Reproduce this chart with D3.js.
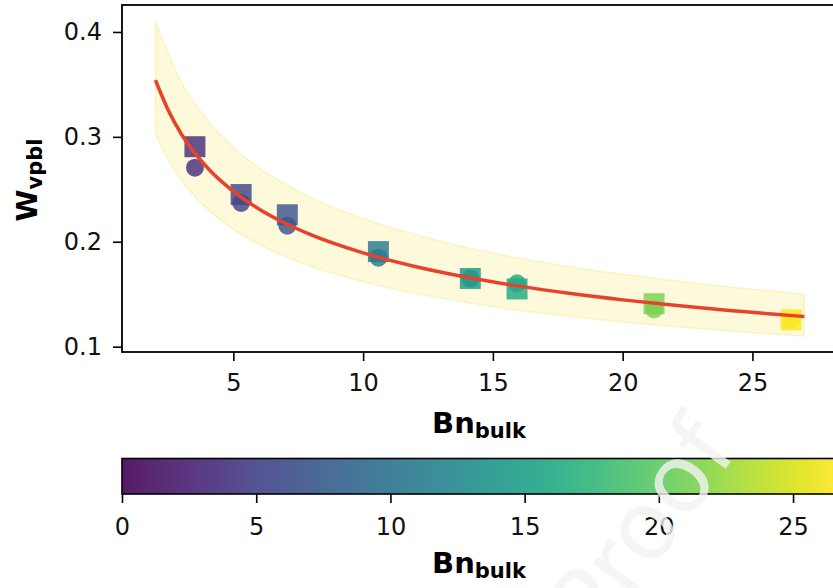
<!DOCTYPE html>
<html><head><meta charset="utf-8">
<script src="https://cdn.jsdelivr.net/npm/d3@7"></script>
<style>body{margin:0;background:#fff}svg{display:block}text{font-family:"DejaVu Sans",sans-serif}</style>
</head><body><svg id="c" width="833" height="588"></svg>
<script>
// ---- data ----
const bnPoints   = [3.52, 5.30, 7.08, 10.59, 14.13, 15.93, 21.21, 26.49];
const wSquares   = [0.2906, 0.245, 0.2257, 0.1906, 0.165, 0.155, 0.1409, 0.1255];
const wCircles   = [0.2706, 0.237, 0.2153, 0.1848, 0.165, 0.1604, 0.1356, 0.1255];
const fitBn      = [2, 2.5, 3, 4, 5, 6, 7, 8, 10, 12, 14, 16, 18, 20, 22, 24, 26, 27];
const fitW       = [0.354, 0.325, 0.3025, 0.2705, 0.248, 0.231, 0.2176, 0.2065, 0.1894, 0.1764, 0.1661, 0.1577, 0.1506, 0.1446, 0.1394, 0.1347, 0.1306, 0.1287];
const bandUpper  = [0.411, 0.379, 0.352, 0.316, 0.290, 0.270, 0.255, 0.242, 0.222, 0.207, 0.1945, 0.1845, 0.176, 0.169, 0.1628, 0.1572, 0.1523, 0.150];
const bandLower  = [0.303, 0.278, 0.2586, 0.2313, 0.212, 0.1975, 0.186, 0.1766, 0.1619, 0.1508, 0.142, 0.1348, 0.1288, 0.1236, 0.1192, 0.1152, 0.1117, 0.110];
const xTicks     = [5, 10, 15, 20, 25];
const yTicks     = [0.1, 0.2, 0.3, 0.4];
const cbTicks    = [0, 5, 10, 15, 20, 25];
const cbMax      = 26.6;

const svg = d3.select("#c");
const x = d3.scaleLinear().domain([0.71, 28.22]).range([122, 836]);
const y = d3.scaleLinear().domain([0.0949, 0.4257]).range([352, 5]);
const color = d3.scaleSequential(d3.interpolateViridis).domain([0, cbMax]);

// band
const band = fitBn.map((b, i) => ({b, lo: bandLower[i], hi: bandUpper[i]}));
svg.append("path").datum(band)
  .attr("d", d3.area().x(d => x(d.b)).y0(d => y(d.lo)).y1(d => y(d.hi)).curve(d3.curveMonotoneX))
  .attr("fill", "rgba(245,230,90,0.22)").attr("stroke", "rgba(240,225,100,0.3)").attr("stroke-width", 1.5);

// markers
const pts = bnPoints.map((b, i) => ({b, ws: wSquares[i], wc: wCircles[i]}));
const g = svg.append("g");
pts.forEach(d => {
  g.append("circle").attr("cx", x(d.b)).attr("cy", y(d.wc)).attr("r", 9)
    .attr("fill", color(d.b)).attr("fill-opacity", 0.82);
  g.append("rect").attr("x", x(d.b) - 10.5).attr("y", y(d.ws) - 10.5).attr("width", 21).attr("height", 21)
    .attr("fill", color(d.b)).attr("fill-opacity", 0.82);
});

// fit curve
svg.append("path").datum(fitBn.map((b, i) => [b, fitW[i]]))
  .attr("d", d3.line().x(d => x(d[0])).y(d => y(d[1])).curve(d3.curveMonotoneX))
  .attr("fill", "none").attr("stroke", "#e8412c").attr("stroke-width", 3.5);

// axes
const ax = svg.append("g").attr("transform", "translate(0,352)")
  .call(d3.axisBottom(x).tickValues(xTicks).tickFormat(d3.format("d")).tickSize(9).tickPadding(13));
const ay = svg.append("g").attr("transform", "translate(122,0)")
  .call(d3.axisLeft(y).tickValues(yTicks).tickFormat(d3.format(".1f")).tickSize(9).tickPadding(11));
[ax, ay].forEach(a => {
  a.select(".domain").remove();
  a.selectAll(".tick line").attr("stroke", "#000").attr("stroke-width", 1.6);
  a.selectAll(".tick text").attr("font-size", 24).attr("fill", "#111").style("font-family", "DejaVu Sans");
});
svg.append("rect").attr("x", 122).attr("y", 5).attr("width", 714).attr("height", 347)
  .attr("fill", "none").attr("stroke", "#000").attr("stroke-width", 1.8);

// axis labels
const xl = svg.append("text").attr("x", 479).attr("y", 433).attr("text-anchor", "middle")
  .attr("font-weight", "bold").attr("font-size", 29);
xl.append("tspan").text("Bn");
xl.append("tspan").attr("font-size", 21).attr("dy", 5).text("bulk");

const yl = svg.append("text").attr("transform", "translate(37,180) rotate(-90)").attr("text-anchor", "middle")
  .attr("font-weight", "bold").attr("font-size", 29);
yl.append("tspan").text("W");
yl.append("tspan").attr("font-size", 21).attr("dy", 5).text("vpbl");

// colorbar
const cx = d3.scaleLinear().domain([0, cbMax]).range([122, 836]);
const defs = svg.append("defs");
const grad = defs.append("linearGradient").attr("id", "vir").attr("x1", "0%").attr("x2", "100%");
d3.range(0, 1.0001, 0.02).forEach(t => grad.append("stop").attr("offset", t).attr("stop-color", d3.interpolateViridis(t)));
svg.append("rect").attr("x", 122).attr("y", 458.5).attr("width", 714).attr("height", 35.5)
  .attr("fill", "#fff");
svg.append("rect").attr("x", 122).attr("y", 458.5).attr("width", 714).attr("height", 35.5)
  .attr("fill", "url(#vir)").attr("fill-opacity", 0.9).attr("stroke", "#000").attr("stroke-width", 1.6);
const cax = svg.append("g").attr("transform", "translate(0,494)")
  .call(d3.axisBottom(cx).tickValues(cbTicks).tickFormat(d3.format("d")).tickSize(9).tickPadding(15));
cax.select(".domain").remove();
cax.selectAll(".tick line").attr("stroke", "#000").attr("stroke-width", 1.6);
cax.selectAll(".tick text").attr("font-size", 24).attr("fill", "#111").style("font-family", "DejaVu Sans");

const cl = svg.append("text").attr("x", 479).attr("y", 573).attr("text-anchor", "middle")
  .attr("font-weight", "bold").attr("font-size", 29);
cl.append("tspan").text("Bn");
cl.append("tspan").attr("font-size", 21).attr("dy", 5).text("bulk");

// faint watermark
svg.append("text").attr("transform", "translate(668,548) rotate(-54)").attr("text-anchor", "middle")
  .attr("font-size", 95).attr("fill", "#f2f2f2").attr("fill-opacity", 0.8).text("Proof");
</script></body></html>
